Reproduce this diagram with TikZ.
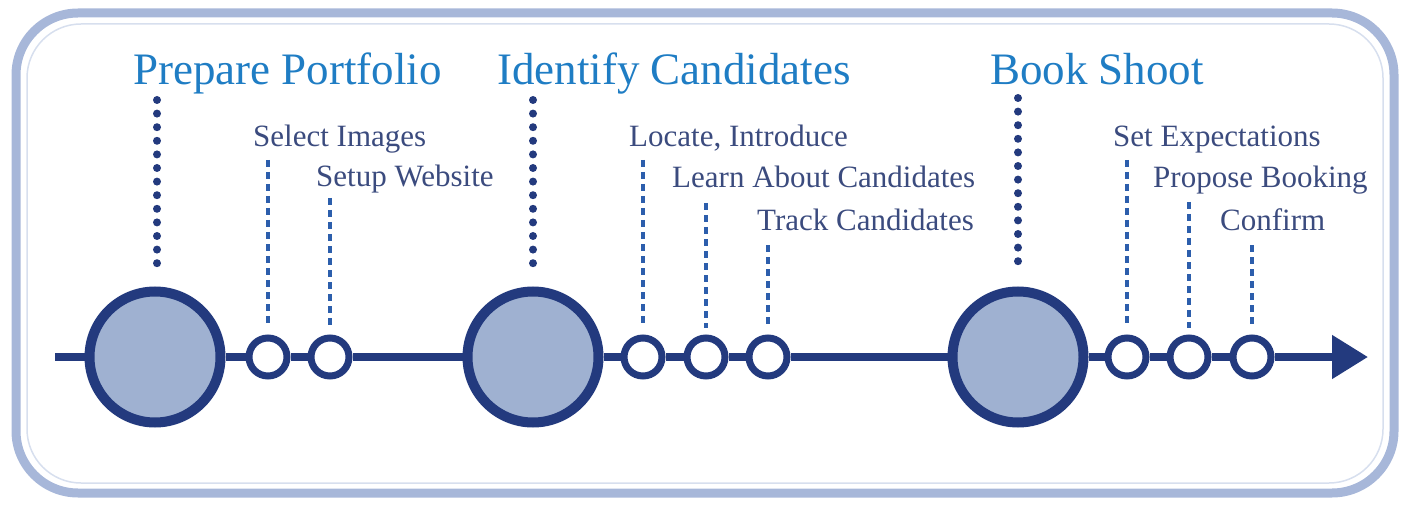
\documentclass[tikz,border=0pt]{standalone}
\usepackage{fontspec}
\setmainfont{Liberation Serif}
\usetikzlibrary{arrows.meta}
\definecolor{navy}{HTML}{233A7E}
\definecolor{phasefill}{HTML}{9FB1D1}
\definecolor{titleblue}{HTML}{1F7DC4}
\definecolor{labelblue}{HTML}{3B4B7E}
\definecolor{dashblue}{HTML}{2C5EAC}
\definecolor{framecol}{HTML}{A7B7D9}
\tikzset{
    phase/.style={circle, draw=navy, line width=10pt, fill=phasefill, minimum size=131pt, inner sep=0pt},
    task/.style={circle, draw=navy, line width=7pt, fill=white, minimum size=38pt, inner sep=0pt},
    phase label/.style={anchor=base west, inner sep=0pt, text=titleblue, font=\fontsize{45}{50}\selectfont},
    task label/.style={anchor=base west, inner sep=0pt, text=labelblue, font=\fontsize{31}{36}\selectfont},
    phase link/.style={draw=navy, line width=8pt, line cap=round, dash pattern=on 0pt off 13.6pt, shorten >=20pt},
    task link/.style={draw=dashblue, line width=4.5pt, dash pattern=on 7pt off 5pt, shorten >=7pt},
    timeline/.style={draw=navy, line width=8pt},
}

\begin{document}
\begin{tikzpicture}[x=1pt, y=-1pt]
    \useasboundingbox (0,0) rectangle (1408,505);
    % frame
    \draw[framecol, line width=9pt, rounded corners=62pt] (16,13) rectangle (1394,493);
    \draw[framecol!45, line width=1.5pt, rounded corners=54pt] (27,24) rectangle (1383,483);

    % phases and tasks on the line
    \node[phase] (pp) at (155,357) {};
    \node[task] (si) at (268,357) {};
    \node[task] (sw) at (330,357) {};
    \node[phase] (ic) at (533,357) {};
    \node[task] (li) at (643,357) {};
    \node[task] (la) at (706,357) {};
    \node[task] (tc) at (768,357) {};
    \node[phase] (bs) at (1018,357) {};
    \node[task] (se) at (1127,357) {};
    \node[task] (pb) at (1189,357) {};
    \node[task] (cf) at (1252,357) {};

    \coordinate (start) at (55,357);
    \coordinate (tip) at (1368,357);
    \draw[timeline] (start) -- (pp) -- (si) -- (sw) -- (ic) -- (li) -- (la) -- (tc) -- (bs) -- (se) -- (pb) -- (cf);
    \draw[timeline, -{Triangle[length=36pt, width=42pt]}] (cf) -- (tip);

    % headings
    \node[phase label] (pp label) at (133,85) {Prepare Portfolio};
    \node[phase label] (ic label) at (497,85) {Identify Candidates};
    \node[phase label] (bs label) at (990,85) {Book Shoot};

    \node[task label] (si label) at (253,147) {Select Images};
    \node[task label] (sw label) at (316,187) {Setup Website};
    \node[task label] (li label) at (629,147) {Locate, Introduce};
    \node[task label] (la label) at (672,188) {Learn About Candidates};
    \node[task label] (tc label) at (757,230) {Track Candidates};
    \node[task label] (se label) at (1113,147) {Set Expectations};
    \node[task label] (pb label) at (1153,188) {Propose Booking};
    \node[task label] (cf label) at (1220,231) {Confirm};

    % leaders
    \coordinate (pp top) at (157,100);
    \coordinate (ic top) at (533,100);
    \coordinate (bs top) at (1018,98);
    \draw[phase link] (pp top) -- (pp top |- pp.north);
    \draw[phase link] (ic top) -- (ic top |- ic.north);
    \draw[phase link] (bs top) -- (bs top |- bs.north);

    \coordinate (si top) at (268,160);
    \coordinate (sw top) at (330,198);
    \coordinate (li top) at (643,160);
    \coordinate (la top) at (706,203);
    \coordinate (tc top) at (768,245);
    \coordinate (se top) at (1127,160);
    \coordinate (pb top) at (1189,202);
    \coordinate (cf top) at (1252,245);
    \draw[task link] (si top) -- (si.north);
    \draw[task link] (sw top) -- (sw.north);
    \draw[task link] (li top) -- (li.north);
    \draw[task link] (la top) -- (la.north);
    \draw[task link] (tc top) -- (tc.north);
    \draw[task link] (se top) -- (se.north);
    \draw[task link] (pb top) -- (pb.north);
    \draw[task link] (cf top) -- (cf.north);
\end{tikzpicture}
\end{document}
